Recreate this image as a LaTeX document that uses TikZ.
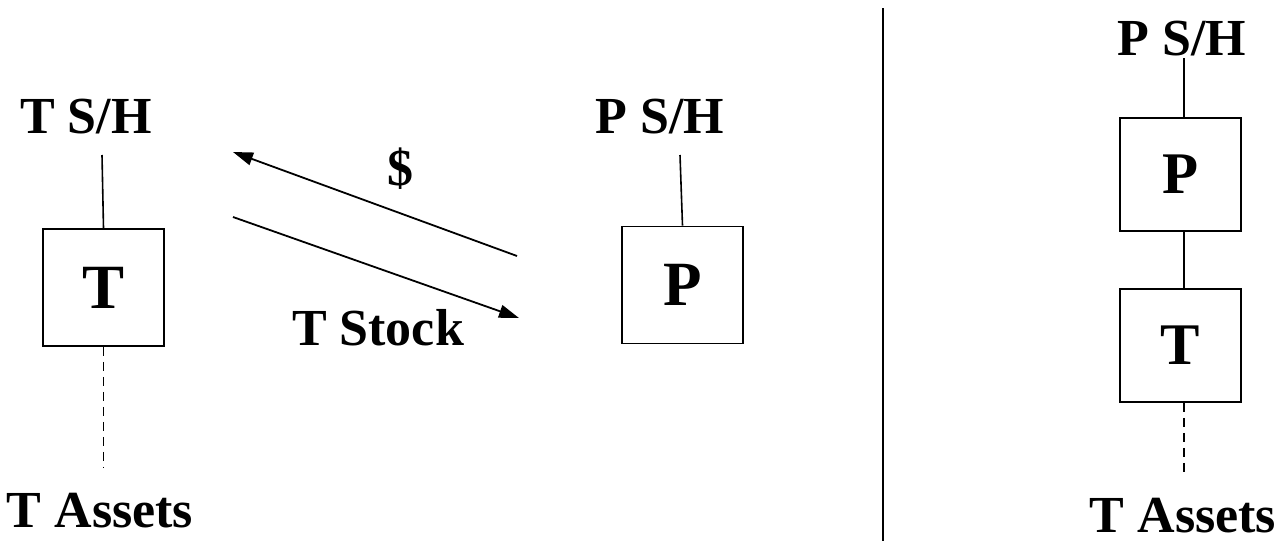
\documentclass[tikz,border=0pt]{standalone}
\usepackage{fontspec}
\setmainfont{Liberation Serif}
\usetikzlibrary{arrows.meta}
\tikzset{
  lbl/.style={font=\fontsize{52}{56}\selectfont\bfseries, inner sep=0pt, anchor=base},
  entity/.style={draw, line width=1.8pt, minimum width=121pt, minimum height=117pt, inner sep=0pt, font=\fontsize{63}{66}\selectfont\bfseries},
  rentity/.style={entity, minimum height=113pt, font=\fontsize{59}{62}\selectfont\bfseries},
  thin/.style={line width=1.6pt},
  thick2/.style={line width=2.6pt},
  dashedline/.style={line width=1.6pt, dash pattern=on 9pt off 6pt},
  flow/.style={line width=1.8pt, -{Triangle[length=20pt,width=13pt]}}
}
\begin{document}
\begin{tikzpicture}[x=1pt,y=-1pt]
\useasboundingbox (0,0) rectangle (1280,541);
% left group
\node[lbl] (tsh) at (86,133) {T S/H};
\node[entity] (tbox) at (103.5,287.5) {T};
\node[lbl] (tassets) at (100,527) {T Assets};
\coordinate (tshend) at (102,155);
\coordinate (tassend) at (103.5,467);
\draw[thin] (tbox.north) -- (tshend);
\draw[dashedline] (tbox.south) -- (tassend);
% exchange arrows
\coordinate (a1s) at (517,256);
\coordinate (a1e) at (233,152);
\coordinate (a2s) at (233,217);
\coordinate (a2e) at (519,318);
\draw[flow] (a1s) -- (a1e);
\draw[flow] (a2s) -- (a2e);
\node[font=\fontsize{52}{56}\selectfont\bfseries, inner sep=0pt] (dollar) at (400,169) {\$};
\node[lbl] (tstock) at (378,345) {T Stock};
% P group
\node[lbl] (psh) at (660,133) {P S/H};
\node[entity] (pbox) at (682.5,285) {P};
\coordinate (pshend) at (680,155);
\draw[thin] (pbox.north) -- (pshend);
% divider
\coordinate (divtop) at (883,8);
\coordinate (divbot) at (883,541);
\draw[line width=2.2pt] (divtop) -- (divbot);
% right group
\node[lbl] (rpsh) at (1182,55) {P S/H};
\node[rentity] (rpbox) at (1180.5,174.5) {P};
\node[rentity] (rtbox) at (1180.5,345.5) {T};
\node[lbl] (rtassets) at (1183,532) {T Assets};
\coordinate (rpshend) at (1184,58);
\coordinate (rtassend) at (1184,473);
\draw[thick2] ([xshift=3.5pt]rpbox.north) -- (rpshend);
\draw[thick2] ([xshift=3.5pt]rpbox.south) -- ([xshift=3.5pt]rtbox.north);
\draw[dashedline] ([xshift=3.5pt]rtbox.south) -- (rtassend);
\end{tikzpicture}
\end{document}
